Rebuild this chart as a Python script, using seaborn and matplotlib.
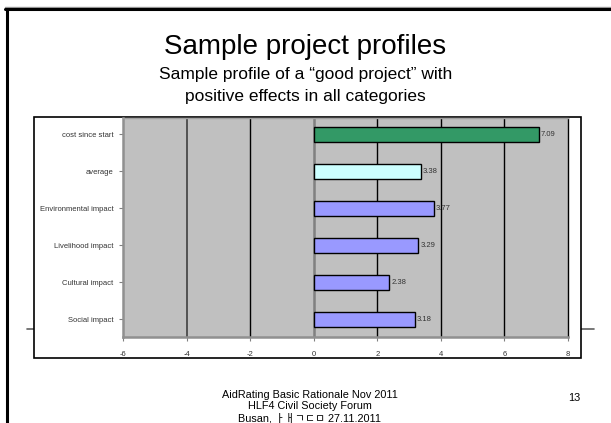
import numpy as np
import pandas as pd
import matplotlib
matplotlib.use("Agg")
import matplotlib.pyplot as plt
import seaborn as sns
from matplotlib.patches import Rectangle
from matplotlib.lines import Line2D

# Data
categories = ["cost since start", "average", "Environmental impact",
              "Livelihood impact", "Cultural impact", "Social impact"]
values = [7.09, 3.38, 3.77, 3.29, 2.38, 3.18]
bar_colors = ["#339966", "#CCFFFF", "#9999FF", "#9999FF", "#9999FF", "#9999FF"]
x_ticks = [-6, -4, -2, 0, 2, 4, 6, 8]

df = pd.DataFrame({"category": categories, "value": values})

sns.set_style("white")
plt.rcParams["font.family"] = ["Liberation Sans", "Noto Sans CJK KR", "DejaVu Sans"]
plt.rcParams["text.color"] = "black"

fig = plt.figure(figsize=(6.11, 4.23), dpi=100)
W, H = 611, 423

def fx(px):
    return px / W

def fy(py):
    return 1 - py / H

# slide frame
fig.add_artist(Line2D([fx(5), fx(611)], [fy(7.5), fy(7.5)], color="#999999", lw=1.0))
fig.add_artist(Line2D([fx(5), fx(611)], [fy(9.5), fy(9.5)], color="black", lw=2.2))
fig.add_artist(Line2D([fx(6.5), fx(6.5)], [fy(9), fy(423)], color="black", lw=2.2))

# decorative line behind chart box
fig.add_artist(Line2D([fx(27), fx(594)], [fy(329), fy(329)], color="#606060", lw=1.2, zorder=0))
fig.add_artist(Rectangle((fx(34), fy(358)), fx(547), 241 / H, transform=fig.transFigure,
                         facecolor="white", edgecolor="black", lw=1.2, zorder=0.5))

# titles
fig.text(0.5, fy(47), "Sample project profiles", ha="center", va="center", fontsize=20)
fig.text(0.5, fy(75), "Sample profile of a \u201cgood project\u201d with", ha="center",
         va="center", fontsize=12.5)
fig.text(0.5, fy(97), "positive effects in all categories", ha="center", va="center",
         fontsize=12.5)

# footer
fig.text(fx(310), fy(395), "AidRating Basic Rationale Nov 2011", ha="center", va="center", fontsize=7.8)
fig.text(fx(310), fy(406), "HLF4 Civil Society Forum", ha="center", va="center", fontsize=7.8)
fig.text(fx(310), fy(418), "Busan, \u314f\u3150\u3131\u3137\u3141 27.11.2011", ha="center",
         va="center", fontsize=7.8)
fig.text(fx(574), fy(398), "13", ha="center", va="center", fontsize=7.8)

# Chart
ax = fig.add_axes([fx(123), fy(337), fx(568 - 123), (337 - 118) / H])
ax.set_zorder(2)
ax.set_facecolor("#C0C0C0")
sns.barplot(data=df, x="value", y="category", hue="category", palette=bar_colors,
            saturation=1, orient="h", width=0.41, edgecolor="black", linewidth=1.0,
            legend=False, ax=ax, zorder=3)

for x in x_ticks[1:-1]:
    if x == 0:
        ax.axvline(x, color="#808080", lw=1.8, zorder=1)
    elif x == -4:
        ax.axvline(x, color="#404040", lw=1.2, zorder=1)
    else:
        ax.axvline(x, color="black", lw=1.0, zorder=1)

for i, v in enumerate(values):
    ax.text(v + 0.06, i, f"{v:.2f}", va="center", ha="left", fontsize=5.5,
            color="#333333", zorder=4)

ax.set_xlim(-6, 8)
ax.set_ylim(5.48, -0.44)
ax.set_xticks(x_ticks)
ax.set_xticklabels([str(t) for t in x_ticks])
ax.set_xlabel("")
ax.set_ylabel("")
ax.tick_params(axis="both", labelsize=5.5, labelcolor="#333333", length=3,
               width=0.8, color="#808080", left=True, bottom=True, pad=4)
ax.tick_params(axis="x", pad=7)

for side in ["left", "bottom"]:
    ax.spines[side].set_color("#909090")
    ax.spines[side].set_linewidth(1.8)
ax.spines["right"].set_color("black")
ax.spines["right"].set_linewidth(1.0)
ax.spines["top"].set_color("#A0A0A0")
ax.spines["top"].set_linewidth(1.0)

fig.savefig("out.png", dpi=100, facecolor="white")
